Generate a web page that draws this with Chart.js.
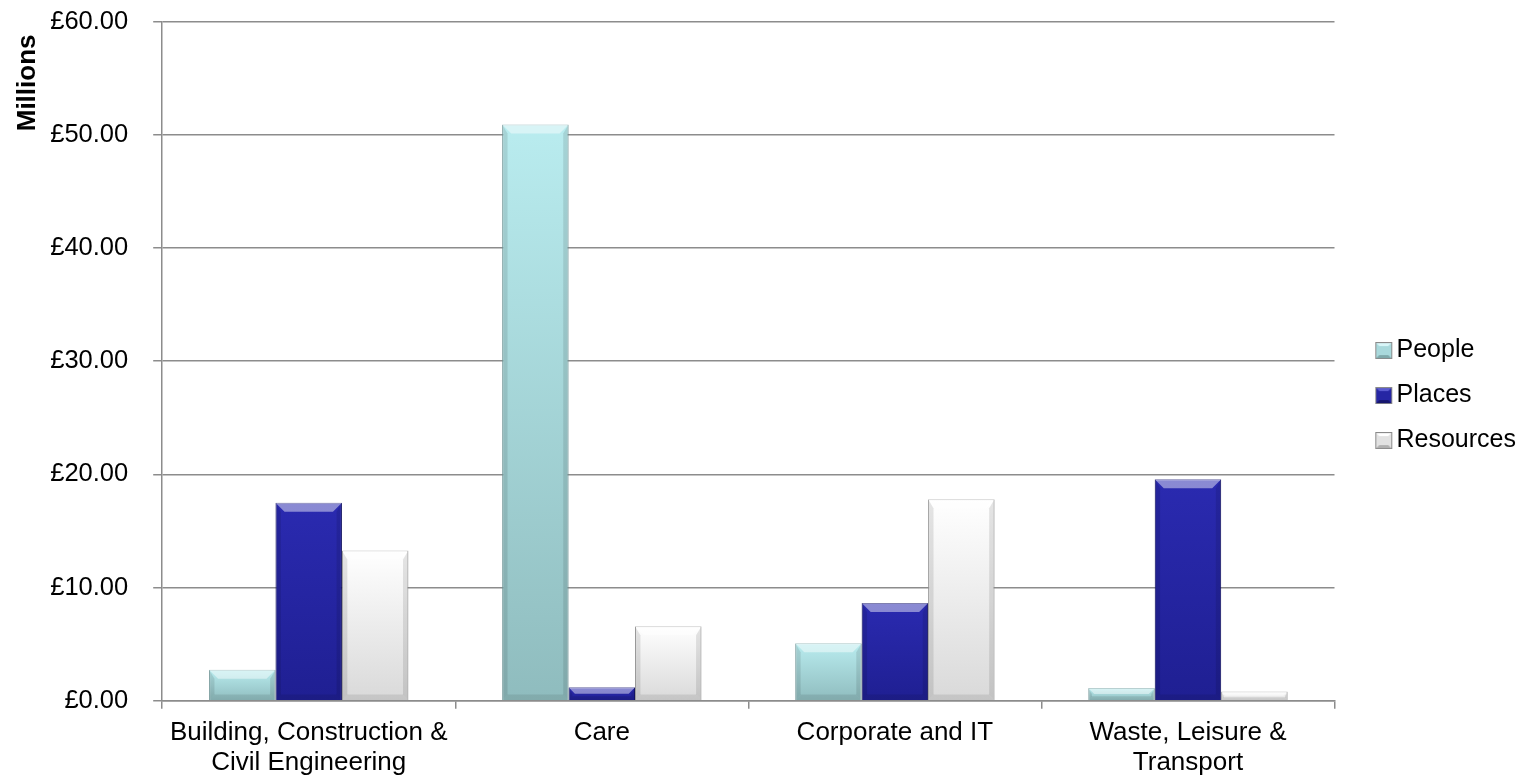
<!DOCTYPE html>
<html>
<head>
<meta charset="utf-8">
<script src="https://cdn.jsdelivr.net/npm/chart.js@4"></script>
<style>
  html, body { margin: 0; padding: 0; background: #ffffff; }
  #wrap { width: 1526px; height: 776px; position: relative; }
</style>
</head>
<body>
<div id="wrap"><canvas id="spend"></canvas></div>
<script>
var categories = [
  ["Building, Construction &", "Civil Engineering"],
  "Care",
  "Corporate and IT",
  ["Waste, Leisure &", "Transport"]
];
var seriesNames = ["People", "Places", "Resources"];
var peopleValues = [2.74, 50.9, 5.07, 1.12];
var placesValues = [17.49, 1.18, 8.64, 19.56];
var resourcesValues = [13.27, 6.58, 17.8, 0.82];
var yTicks = [0, 10, 20, 30, 40, 50, 60];

var fontFamily = "'Liberation Sans', Arial, sans-serif";
var gridGrey = "#8c8c8c";

// vertical gradient over the height of each bar
var barFill = function(topColor, bottomColor) {
  return function(ctx) {
    var chart, g, top, bottom;
    chart = ctx.chart;
    if (!chart.chartArea || ctx.raw == null) {
      return bottomColor;
    }
    top = chart.scales.y.getPixelForValue(ctx.raw);
    bottom = chart.scales.y.getPixelForValue(0);
    if (!isFinite(top) || bottom - top < 1) {
      return bottomColor;
    }
    g = chart.ctx.createLinearGradient(0, top, 0, bottom);
    g.addColorStop(0, topColor);
    g.addColorStop(1, bottomColor);
    return g;
  };
};

// soft bevel on top of the bars the library has laid out
var bevelPlugin = {
  id: "bevel",
  afterDatasetsDraw: function(chart) {
    var c = chart.ctx;
    chart.data.datasets.forEach(function(ds, i) {
      var meta = chart.getDatasetMeta(i);
      meta.data.forEach(function(bar) {
        var p = bar.getProps(["x", "y", "base", "width"], true);
        var l = p.x - p.width / 2, r = p.x + p.width / 2;
        var t = Math.min(p.y, p.base), b = Math.max(p.y, p.base);
        var d = Math.min(9, (b - t) / 2);
        if (d < 1) {
          return;
        }
        c.save();
        c.fillStyle = "rgba(255,255,255,0.45)";
        c.beginPath();
        c.moveTo(l, t); c.lineTo(r, t); c.lineTo(r - d, t + d); c.lineTo(l + d, t + d);
        c.closePath(); c.fill();
        c.fillStyle = "rgba(0,0,0,0.10)";
        c.beginPath();
        c.moveTo(l, t); c.lineTo(l + d * 0.6, t + d); c.lineTo(l + d * 0.6, b - d * 0.6); c.lineTo(l, b);
        c.closePath(); c.fill();
        c.beginPath();
        c.moveTo(r, t); c.lineTo(r - d * 0.6, t + d); c.lineTo(r - d * 0.6, b - d * 0.6); c.lineTo(r, b);
        c.closePath(); c.fill();
        c.fillStyle = "rgba(0,0,0,0.09)";
        c.beginPath();
        c.moveTo(l, b); c.lineTo(r, b); c.lineTo(r - d * 0.6, b - d * 0.6); c.lineTo(l + d * 0.6, b - d * 0.6);
        c.closePath(); c.fill();
        c.restore();
      });
    });
  }
};

// legend swatch: small bevelled square sitting right of the centre of a wider canvas
var legendSwatch = function(face, light, dark) {
  var c, x, s;
  c = document.createElement("canvas");
  c.width = 60;
  c.height = 17;
  s = c.getContext("2d");
  x = 36;
  s.fillStyle = face;
  s.fillRect(x, 0, 17, 17);
  s.fillStyle = light;
  s.beginPath();
  s.moveTo(x, 0); s.lineTo(x + 17, 0); s.lineTo(x + 13, 4); s.lineTo(x + 4, 4);
  s.closePath(); s.fill();
  s.fillStyle = dark;
  s.beginPath();
  s.moveTo(x, 17); s.lineTo(x + 17, 17); s.lineTo(x + 13, 13); s.lineTo(x + 4, 13);
  s.closePath(); s.fill();
  s.strokeStyle = "#8a8a8a";
  s.lineWidth = 1;
  s.strokeRect(x + 0.5, 0.5, 16, 16);
  return c;
};

var createChart = function(canvasId) {
  var swatches, chartData;
  swatches = [
    legendSwatch("#a9d9dc", "#d8f6f8", "#7fa9ab"),
    legendSwatch("#2626a4", "#5a5ad0", "#16166e"),
    legendSwatch("#e2e2e2", "#ffffff", "#b0b0b0")
  ];
  chartData = {
    type: "bar",
    data: {
      labels: categories,
      datasets: [{
        label: seriesNames[0],
        data: peopleValues,
        backgroundColor: barFill("#b9ecef", "#8fbcbe"),
        borderColor: "#7fa9ab",
        borderWidth: 1
      }, {
        label: seriesNames[1],
        data: placesValues,
        backgroundColor: barFill("#2a2ab0", "#1f1f92"),
        borderColor: "#16166e",
        borderWidth: 1
      }, {
        label: seriesNames[2],
        data: resourcesValues,
        backgroundColor: barFill("#ffffff", "#d9d9d9"),
        borderColor: "#a8a8a8",
        borderWidth: 1
      }]
    },
    plugins: [bevelPlugin],
    options: {
      responsive: true,
      maintainAspectRatio: false,
      animation: false,
      layout: {
        padding: { top: 0, left: 12, right: 0, bottom: -11 }
      },
      datasets: {
        bar: { categoryPercentage: 0.68, barPercentage: 1.0 }
      },
      plugins: {
        tooltip: { enabled: false },
        legend: {
          position: "right",
          title: {
            display: true,
            text: " ",
            padding: 0,
            font: { family: fontFamily, size: 3.5 }
          },
          labels: {
            color: "#000000",
            usePointStyle: true,
            pointStyleWidth: 29.5,
            boxHeight: 17,
            padding: 20,
            font: { family: fontFamily, size: 25 },
            generateLabels: function(chart) {
              return chart.data.datasets.map(function(ds, i) {
                return {
                  text: ds.label,
                  pointStyle: swatches[i],
                  fillStyle: "#ffffff",
                  strokeStyle: "#ffffff",
                  lineWidth: 0,
                  datasetIndex: i,
                  fontColor: "#000000"
                };
              });
            }
          }
        }
      },
      scales: {
        x: {
          offset: true,
          grid: {
            offset: true,
            drawOnChartArea: false,
            drawTicks: true,
            tickLength: 8,
            color: gridGrey,
            lineWidth: 1.5
          },
          border: { color: gridGrey, width: 1.5 },
          ticks: {
            color: "#000000",
            padding: 9,
            maxRotation: 0,
            font: { family: fontFamily, size: 26, lineHeight: 1.16 }
          }
        },
        y: {
          min: 0,
          max: 60,
          afterBuildTicks: function(axis) {
            axis.ticks = yTicks.map(function(v) { return { value: v }; });
          },
          // the wide label gap should not push the plot top down
          afterFit: function(axis) {
            axis.paddingTop = 21.5;
          },
          grid: {
            color: gridGrey,
            lineWidth: 1.5,
            drawTicks: true,
            tickLength: 9
          },
          border: { color: gridGrey, width: 1.5 },
          ticks: {
            color: "#000000",
            padding: 25,
            font: { family: fontFamily, size: 25.5 },
            callback: function(v) { return "\u00a3" + Number(v).toFixed(2); }
          },
          title: {
            display: true,
            text: "Millions\u2002",
            align: "end",
            color: "#000000",
            padding: { top: 0, bottom: -18 },
            font: { family: fontFamily, size: 26, weight: "bold" }
          }
        }
      }
    }
  };
  return new Chart(document.getElementById(canvasId), chartData);
};

createChart("spend");
</script>
</body>
</html>
